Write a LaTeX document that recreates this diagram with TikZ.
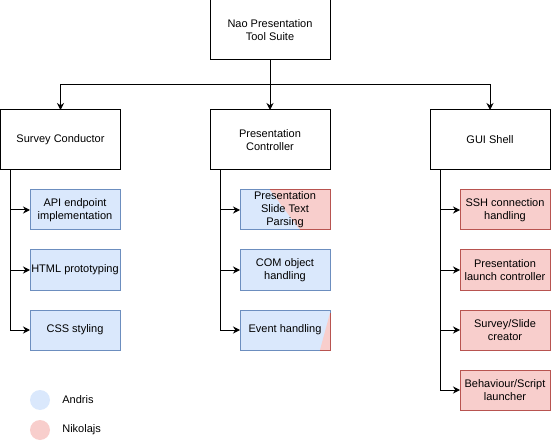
\documentclass[tikz,border=0pt]{standalone}
\usepackage{fontspec}
\setmainfont{Liberation Sans}
\usetikzlibrary{calc,positioning,arrows.meta}
\definecolor{andrisfill}{HTML}{DAE8FC}
\definecolor{andrisline}{HTML}{6C8EBF}
\definecolor{nikofill}{HTML}{F8CECC}
\definecolor{nikoline}{HTML}{B85450}

\begin{document}
\begin{tikzpicture}[x=1pt, y=-1pt, font=\fontsize{11}{13}\selectfont, line width=1pt,
	box/.style={draw, minimum width=120pt, minimum height=60pt, align=center, inner sep=1pt, outer sep=0pt},
	task/.style={draw, minimum width=90pt, minimum height=40pt, align=center, inner sep=1pt, outer sep=0pt},
	andris/.style={task, fill=andrisfill, draw=andrisline},
	nikolajs/.style={task, fill=nikofill, draw=nikoline},
	link/.style={-{Stealth[length=7pt,width=7pt]}}]
			%%%%% START %%%%%
			\useasboundingbox (0,0) rectangle (551,446);
			
			\node[box] (root) at (270,30) {Nao Presentation\\Tool Suite};
			
			\node[box] (sc) at (60.5,140) {Survey Conductor};
			\node[box] (pc) at (270,140) {Presentation\\Controller};
			\node[box] (gui) at (490,140) {GUI Shell};
			
			\draw[link] (root.south) -- ++(0,25) -| (sc.north);
			\draw[link] (root.south) -- (pc.north);
			\draw[link] (root.south) -- ++(0,25) -| (gui.north);
			
			% Survey Conductor
			\node[andris] (api) at (75,210) {API endpoint\\implementation};
			\node[andris] (html) at (75,270) {HTML prototyping};
			\node[andris] (css) at (75,330) {CSS styling};
			
			\draw[link] ($(sc.south west)+(10,0)$) |- (api.west);
			\draw[link] ($(sc.south west)+(10,0)$) |- (html.west);
			\draw[link] ($(sc.south west)+(10,0)$) |- (css.west);
			
			% Presentation Controller
			\node[andris, path picture={\fill[nikofill] ($(path picture bounding box.north west)+(30,0)$) -- (path picture bounding box.north east) -- (path picture bounding box.south east) -- ($(path picture bounding box.south west)+(60,0)$) -- cycle;}] (pars) at (285,210) {Presentation\\Slide Text\\Parsing};
			\draw[nikoline] ($(pars.north west)+(30,0)$) -- (pars.north east) -- (pars.south east) -- ($(pars.south west)+(60,0)$);
			\node[andris] (com) at (285,270) {COM object\\handling};
			\node[andris, path picture={\fill[nikofill] ($(path picture bounding box.north east)+(0,3)$) -- (path picture bounding box.south east) -- ($(path picture bounding box.south east)+(-10,0)$) -- cycle;}] (event) at (285,330) {Event handling};
			\draw[nikoline] ($(event.north east)+(0,3)$) -- (event.south east) -- ++(-10,0);
			
			\draw[link] ($(pc.south west)+(10,0)$) |- (pars.west);
			\draw[link] ($(pc.south west)+(10,0)$) |- (com.west);
			\draw[link] ($(pc.south west)+(10,0)$) |- (event.west);
			
			% GUI Shell
			\node[nikolajs] (ssh) at (505,210) {SSH connection\\handling};
			\node[nikolajs] (launch) at (505,270) {Presentation\\launch controller};
			\node[nikolajs] (creator) at (505,330) {Survey/Slide\\creator};
			\node[nikolajs] (behav) at (505,390) {Behaviour/Script\\launcher};
			
			\draw[link] ($(gui.south west)+(10,0)$) |- (ssh.west);
			\draw[link] ($(gui.south west)+(10,0)$) |- (launch.west);
			\draw[link] ($(gui.south west)+(10,0)$) |- (creator.west);
			\draw[link] ($(gui.south west)+(10,0)$) |- (behav.west);
			
			% key
			\node[circle, fill=andrisfill, minimum size=20pt, inner sep=0pt] (keyA) at (40,400) {};
			\node[right=8pt of keyA] (keyAtext) {Andris};
			\node[circle, fill=nikofill, minimum size=20pt, inner sep=0pt] (keyN) at (40,430) {};
			\node[right=8pt of keyN] (keyNtext) {Nikolajs};
			%%%%% END %%%%%
\end{tikzpicture}
\end{document}
